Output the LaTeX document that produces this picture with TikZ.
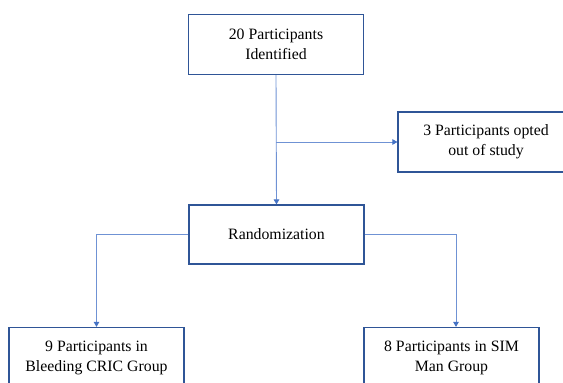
\documentclass[tikz,border=0pt]{standalone}
\usepackage{fontspec}
\setmainfont{Liberation Serif}
\usepackage{xcolor}
\usepackage{tikz}
\usetikzlibrary{arrows.meta, positioning}
\definecolor{boxblue}{HTML}{2F5597}
\definecolor{lineblue}{HTML}{6F92D4}
\definecolor{tipblue}{HTML}{4472C4}
\tikzset{
  flowbox/.style={draw=boxblue, line width=1.2pt, fill=white, minimum width=175pt,
    minimum height=60pt, align=center, font=\fontsize{15.8}{20}\selectfont},
  flowline/.style={draw=lineblue, line width=0.9pt,
    -{Triangle[length=5pt,width=5.5pt,fill=tipblue,color=tipblue]}}
}
\begin{document}
\begin{tikzpicture}[x=1pt, y=-1pt]
				\useasboundingbox (0, 0) rectangle (563, 383);
				\clip (0, 0) rectangle (563, 383);

				\node[flowbox] (ident) at (276, 44.5) {20 Participants\\Identified};
				\node[flowbox, minimum width=176pt] (optout) at (486, 142) {3 Participants opted\\out of study};
				\node[flowbox, minimum height=59pt] (rand) at (276.5, 234.5) {Randomization};
				\node[flowbox] (cric) at (96.5, 357.5) {9 Participants in\\Bleeding CRIC Group};
				\node[flowbox] (sim) at (451.5, 357.5) {8 Participants in SIM\\Man Group};

				\coordinate (split) at (ident.south |- optout.west);
				\coordinate (simtop) at ([xshift=4.5pt]sim.north);

				\draw[flowline] (ident.south) -- (rand.north);
				\draw[flowline] (split) -- (optout.west);
				\draw[flowline] (rand.west) -| (cric.north);
				\draw[flowline] (rand.east) -| (simtop);
\end{tikzpicture}
\end{document}
